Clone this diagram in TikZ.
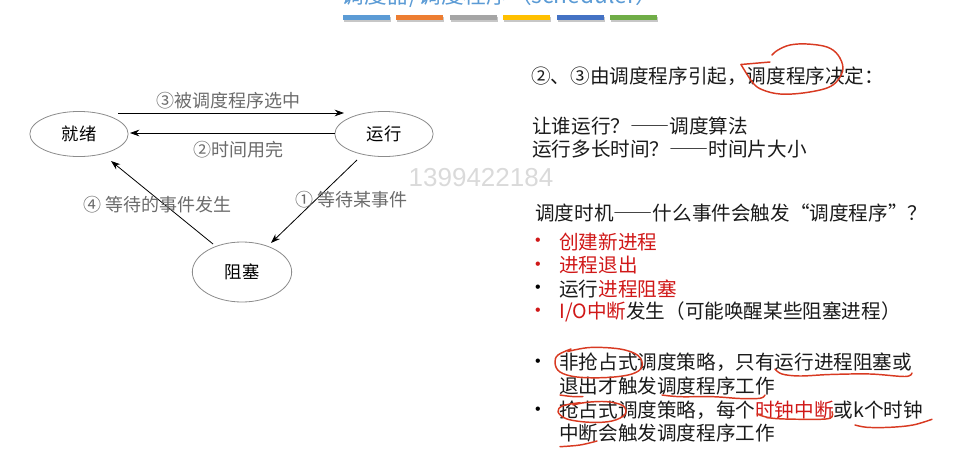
\documentclass[tikz,border=0pt]{standalone}
\usepackage{fontspec}
\setmainfont{Noto Sans CJK SC}
\newfontfamily\bulletfont{Liberation Sans}
\newfontfamily\markfont{Liberation Sans}
\newcommand\fw[1]{{\addfontfeature{CharacterWidth=Full}#1}}
\usetikzlibrary{arrows.meta,shapes.geometric}
\definecolor{titleblue}{HTML}{5B9BD5}
\definecolor{barblue}{HTML}{5B9BD5}
\definecolor{barorange}{HTML}{ED7D31}
\definecolor{bargray}{HTML}{A5A5A5}
\definecolor{baryellow}{HTML}{FFC000}
\definecolor{bardark}{HTML}{4472C4}
\definecolor{bargreen}{HTML}{70AD47}
\definecolor{ovalline}{HTML}{8C8C8C}
\definecolor{lblgray}{HTML}{6B6B6B}
\definecolor{wmgray}{HTML}{DADADA}
\definecolor{keyred}{HTML}{D01818}
\definecolor{penred}{HTML}{D83A22}
\definecolor{inkblack}{HTML}{1A1A1A}

\begin{document}
\begin{tikzpicture}[x=0.75pt, y=-0.75pt,
  state/.style = {ellipse, draw=ovalline, line width=0.6pt, fill=white,
                  minimum width=73.7pt, minimum height=33.8pt, inner sep=0pt,
                  font=\fontsize{13}{15}\selectfont, text=black},
  ln/.style    = {-{Stealth[length=7pt, width=5pt]}, draw=black, line width=0.6pt},
  lbl/.style   = {font=\fontsize{13.5}{16}\selectfont, text=lblgray, inner sep=2pt},
  txt/.style   = {anchor=west, inner sep=0pt, text=inkblack, font=\fontsize{14.7}{17}\selectfont},
  dot/.style   = {inner sep=0pt, font=\bulletfont\fontsize{12}{14}\selectfont},
  pen/.style   = {draw=penred, line width=1.1pt, line cap=round, line join=round},
]
\useasboundingbox (0,0) rectangle (958,471);

% --- slide title (cut off at the top) and the colour strip ---------------------------------------
\begin{scope}
  \clip (0,0) rectangle (958,471);
  \node[anchor=base, inner sep=0pt, text=titleblue, font=\fontsize{17}{20}\selectfont]
    (title) at (500,3) {调度器/调度程序（scheduler）};
\end{scope}
\foreach \c [count=\i from 0] in {barblue,barorange,bargray,baryellow,bardark,bargreen} {
  \fill[black!22] (344+53.4*\i,16.5) rectangle ++(47,5);
  \fill[\c] (343+53.4*\i,15) rectangle ++(47,5);
}

% --- the three states ----------------------------------------------------------------------------
\node[state] (ready)   at (79,134)  {就绪};
\node[state] (running) at (384,134) {运行};
\node[state, minimum width=74.5pt, minimum height=45pt] (blocked) at (242,272) {阻塞};

% --- transitions ---------------------------------------------------------------------------------
\draw[ln] ([shift={(39,-21)}]ready.center) -- node[lbl, above=1pt, pos=.49] (lsel) {③被调度程序选中}
          ([shift={(-40,-21)}]running.center);
\draw[ln] ([shift={(-49,-1)}]running.center) -- node[lbl, below=4pt, pos=.47] (lout) {②时间用完}
          ([shift={(51,-1)}]ready.center);
\draw[ln] ([shift={(-27,26)}]running.center) -- node[lbl, pos=.48, xshift=26.6pt] (lwait) {① 等待某事件}
          ([shift={(29,-29)}]blocked.center);
\draw[ln] ([shift={(-29,-28)}]blocked.center) -- node[lbl, pos=.47, xshift=-6pt] (lwake) {④ 等待的事件发生}
          ([shift={(32,27)}]ready.center);

\node[text=wmgray, inner sep=0pt, font=\markfont\fontsize{19.5}{22}\selectfont] (wm) at (481,177.5) {1399422184};

% --- who decides ---------------------------------------------------------------------------------
\node[txt] (cause)   at (531,76.5) {②、③由调度程序引起，调度程序决定：};
\node[txt] (who)     at (532,126)  {让谁运行？\fw{——}调度算法};
\node[txt] (howlong) at (532,149)  {运行多长时间？\fw{——}时间片大小};

% --- when it runs --------------------------------------------------------------------------------
\node[txt] (when) at (535,213) {调度时机\fw{——}什么事件会触发\fw{“}调度程序\fw{”}？};
\node[dot, text=keyred] (b1) at (538,242)   {•};
\node[txt] (e1) at (559,242)   {\color{keyred}创建新进程};
\node[dot, text=keyred] (b2) at (538,265.5) {•};
\node[txt] (e2) at (559,265.5) {\color{keyred}进程退出};
\node[dot] (b3) at (538,289) {•};
\node[txt] (e3) at (559,289)   {运行{\color{keyred}进程阻塞}};
\node[dot, text=keyred] (b4) at (538,312) {•};
\node[txt] (e4) at (559,312)   {{\color{keyred}I/O中断}发生（可能唤醒某些阻塞进程）};

% --- the two policies ----------------------------------------------------------------------------
\node[dot] (b5) at (538,362.5) {•};
\node[txt] (p1) at (559,362.5) {非抢占式调度策略，只有运行进程阻塞或};
\node[txt] (p2) at (559,386.5) {退出才触发调度程序工作};
\node[dot] (b6) at (538,410.5) {•};
\node[txt] (p3) at (559,410.5) {抢占式调度策略，每个{\color{keyred}时钟中断}或k个时钟};
\node[txt] (p4) at (559,433.5) {中断会触发调度程序工作};

% --- pen marks -----------------------------------------------------------------------------------
\draw[pen] (770,62) -- (741,64.5);
\draw[pen] plot[smooth, tension=.6] coordinates {(741,64.5) (753,83) (763,90) (780,94) (803,93)
  (827,88) (838,80) (843,68) (838,55) (827,47) (807,44) (790,45) (778,50) (772,55)};
\draw[pen] plot[smooth, tension=.6] coordinates {(571,349) (558,355) (555,363) (560,372) (577,377)
  (607,377.5) (632,374) (642,366.5) (638,355.5) (620,349) (590,347.5) (568,351.5)};
\draw[pen] plot[smooth, tension=.6] coordinates {(775,369) (782,374) (800,376) (830,374.5) (870,374)
  (905,376.5) (912,373)};
\draw[pen] plot[smooth, tension=.6] coordinates {(560,395) (572,396.5) (583,396.5)};
\draw[pen] plot[smooth, tension=.6] coordinates {(662,395) (680,396.7) (713,396.7) (740,398.5)
  (760,398.3) (765,395)};
\draw[pen] plot[smooth, tension=.6] coordinates {(580,402.7) (563,405.7) (558,411.7) (567,419)
  (590,422.3) (612,421) (625,414.3) (623,405.7) (607,401.7) (587,402.3) (573,405)};
\draw[pen] plot[smooth, tension=.6] coordinates {(757,414) (773,418.3) (807,419.3) (830,418.3)
  (832,411.7)};
\draw[pen] plot[smooth, tension=.6] coordinates {(855,425) (867,427.3) (890,427.3) (913,425)
  (932,419.3)};
\draw[pen] plot[smooth, tension=.6] coordinates {(560,446.7) (580,445) (597,441)};

\end{tikzpicture}
\end{document}
